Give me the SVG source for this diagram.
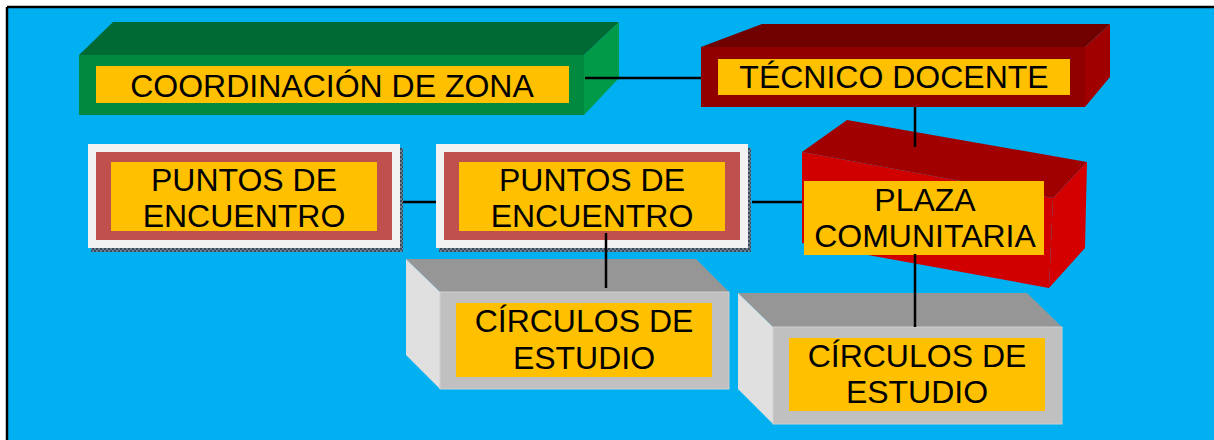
<svg xmlns="http://www.w3.org/2000/svg" width="1214" height="440" viewBox="0 0 1214 440">
<defs>
<pattern id="hatch" width="4" height="4" patternUnits="userSpaceOnUse">
<rect width="4" height="4" fill="#6a7f90"/>
<rect width="2" height="2" fill="#3a4a5a"/>
<rect x="2" y="2" width="2" height="2" fill="#3a4a5a"/>
</pattern>
</defs>
<style>
.lbl{fill:#FFC000}
.t{font-family:"Liberation Sans",Arial,sans-serif;font-size:32px;fill:#000;text-anchor:middle}
.con{stroke:#000;stroke-width:2.5;fill:none}
.pOuter{fill:#F2F2F2}
.pRed{fill:#C0504D}
.gTop{fill:#969696}
.gFront{fill:#C0C0C0;stroke:#CFCFCF;stroke-width:1}
.gSide{fill:#E0E0E0}
</style>
<rect x="0" y="0" width="1214" height="440" fill="#FFFFFF"/>
<rect x="7" y="7" width="1207" height="433" fill="#00B0F0"/>
<line x1="7" y1="7" x2="1214" y2="7" stroke="#000" stroke-width="2.5"/>
<line x1="7" y1="7" x2="7" y2="440" stroke="#000" stroke-width="2.5"/>

<g id="coordinacion">
<polygon points="79,55 113,22 619,22 584,55" fill="#006A35"/>
<polygon points="584,55 619,22 619,78 584,115" fill="#009A48"/>
<rect x="79" y="55" width="505" height="60" fill="#008A40"/>
<rect class="lbl" x="96" y="66" width="473" height="37"/>
<text class="t" x="332" y="97">COORDINACIÓN DE ZONA</text>
</g>

<g id="tecnico">
<polygon points="701,47 762,24 1110,24 1085,47" fill="#700000"/>
<polygon points="1085,47 1110,24 1110,77 1085,107" fill="#A00000"/>
<rect x="701" y="47" width="384" height="60" fill="#900000"/>
<rect class="lbl" x="718" y="59" width="352" height="36"/>
<text class="t" x="894" y="88">TÉCNICO DOCENTE</text>
</g>

<g id="connectors">
<line class="con" x1="585" y1="78" x2="701" y2="78"/>
<line class="con" x1="396" y1="202" x2="440" y2="202"/>
<line class="con" x1="752" y1="202" x2="804" y2="202"/>
</g>

<g id="plaza">
<polygon points="802,152 847,120 1087,162 1053,198" fill="#A00000"/>
<line class="con" x1="915" y1="107" x2="915" y2="147"/>
<polygon points="802,152 1053,198 1049,288 802,243" fill="#D00000"/>
<polygon points="1053,198 1087,162 1085,248 1049,288" fill="#D40000"/>
<rect class="lbl" x="804" y="181" width="240" height="74"/>
<text class="t" x="925" y="211">PLAZA</text>
<text class="t" x="925" y="247">COMUNITARIA</text>
</g>

<g id="puntos1">
<rect x="91" y="148" width="312" height="104" fill="url(#hatch)"/>
<rect class="pOuter" x="88" y="144" width="312" height="104"/>
<rect class="pRed" x="96" y="152" width="296" height="88"/>
<rect class="lbl" x="111" y="162" width="266" height="69"/>
<text class="t" x="244" y="191">PUNTOS DE</text>
<text class="t" x="244" y="227">ENCUENTRO</text>
</g>

<g id="circulos1">
<polygon class="gTop" points="406,259 696,259 729,292 440,292"/>
<polygon class="gSide" points="406,259 440,292 440,389 406,355"/>
<rect class="gFront" x="440" y="292" width="289" height="97"/>
<rect class="lbl" x="456" y="303" width="256" height="74"/>
<text class="t" x="584" y="332">CÍRCULOS DE</text>
<text class="t" x="584" y="369">ESTUDIO</text>
</g>

<g id="puntos2">
<rect x="439" y="148" width="312" height="104" fill="url(#hatch)"/>
<rect class="pOuter" x="436" y="144" width="312" height="104"/>
<rect class="pRed" x="444" y="152" width="296" height="88"/>
<rect class="lbl" x="459" y="162" width="266" height="69"/>
<text class="t" x="592" y="191">PUNTOS DE</text>
<text class="t" x="592" y="227">ENCUENTRO</text>
</g>

<g id="connectors2">
<line class="con" x1="606" y1="233" x2="606" y2="288"/>
<line class="con" x1="915" y1="254" x2="915" y2="327"/>
</g>

<g id="circulos2">
<polygon class="gTop" points="738,293 1027,293 1062,327 773,327"/>
<polygon class="gSide" points="738,293 773,327 773,424 738,389"/>
<rect class="gFront" x="773" y="327" width="289" height="97"/>
<rect class="lbl" x="789" y="338" width="256" height="73"/>
<text class="t" x="917" y="367">CÍRCULOS DE</text>
<text class="t" x="917" y="403">ESTUDIO</text>
</g>
<line class="con" x1="915" y1="293" x2="915" y2="327"/>
</svg>
